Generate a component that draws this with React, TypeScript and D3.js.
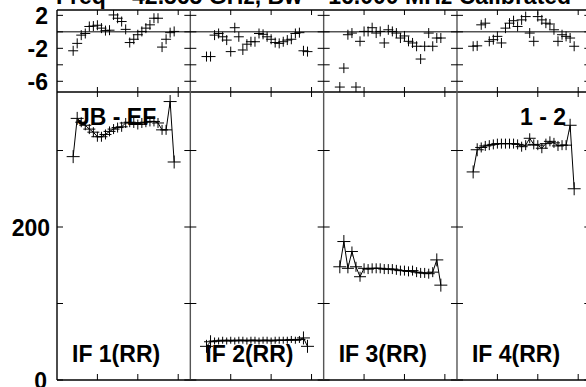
import React from "react";
import * as d3 from "d3";

// channel numbers and panel names
const channels = [4, 5, 6, 7, 8, 9, 10, 11, 12, 13, 14, 15, 16, 17, 18, 19, 20, 21, 22, 23, 24, 25, 26, 27, 28, 29];
const ifLabels = ["IF 1(RR)", "IF 2(RR)", "IF 3(RR)", "IF 4(RR)"];

// amplitude per IF
const ampIF1 = [292, 342, 337, 333, 328, 324, 318, 318, 321, 325, 328, 330, 331, 336, 337, 336, 334, 336, 337, 338, 338, 336, 327, 327, 364, 285];
const ampIF2 = [44, 50, 51, 51, 52, 51, 52, 51, 52, 52, 51, 52, 52, 51, 52, 52, 51, 52, 52, 52, 52, 53, 52, 53, 55, 44];
const ampIF3 = [148, 181, 146, 168, 148, 135, 146, 145, 146, 146, 146, 145, 145, 145, 144, 143, 143, 142, 143, 141, 140, 140, 139, 141, 157, 124];
const ampIF4 = [272, 301, 304, 306, 307, 308, 309, 309, 309, 309, 309, 308, 305, 307, 316, 308, 307, 303, 309, 312, 310, 306, 307, 307, 333, 250];

// phase per IF (degrees)
const phaseIF1 = [-2.3, -1.4, -0.4, -0.2, 0.65, 0.7, 0.8, 0.45, 0.15, 0.2, 2.05, 1.65, 1.25, 0.3, -1.3, -0.9, -0.35, 0.05, 0.45, 0.85, 1.65, 1.65, -1.85, -0.9, -0.1, 0.05];
const phaseIF2 = [-3.0, -3.0, -0.4, -0.2, -0.6, -1.0, -2.4, 0.5, -0.6, -2.2, -1.5, -1.2, -1.2, -0.2, -0.3, -0.6, -0.9, -1.3, -1.4, -1.2, -1.0, -0.9, -0.2, -0.1, -2.3, -2.4];
const phaseIF3 = [-6.7, -4.4, -0.35, -0.15, -6.7, -1.15, 0.05, 0.05, 0.5, -0.15, 0.05, -1.35, 0.25, 0.05, -0.15, -0.75, -0.5, -1.15, -1.35, -1.75, -3.3, -1.75, -0.15, -1.75, -0.75, -0.75];
const phaseIF4 = [-1.75, -1.7, 0.85, 1.05, -1.15, -0.95, -0.55, -1.35, 0.45, 1.05, 1.35, 0.65, 1.45, 1.85, -0.15, -1.15, 1.85, 1.45, 1.05, 0.95, 0.25, -1.15, -0.35, -0.55, -0.75, -1.75];

const amps = [ampIF1, ampIF2, ampIF3, ampIF4];
const phases = [phaseIF1, phaseIF2, phaseIF3, phaseIF4];

const xTicks = [10, 20, 30];
const phaseTicks = [2, 0, -2, -4, -6];
const phaseTickLabels = ["2", "-2", "-6"];
const ampTicks = [0, 100, 200, 300];
const ampTickLabels = ["0", "200"];

const title = "Freq = 42.565 GHz, Bw = 16.000 MHz   Calibrated";

const W = 586;
const H = 387;
const left = 57;
const panelW = 133.33;
const font = "'Liberation Sans', Arial, sans-serif";

export default function App() {
  const yPh = d3.scaleLinear().domain([-7.3, 2.65]).range([92, 10]);
  const yAmp = d3.scaleLinear().domain([0, 376.5]).range([380, 92]);
  const xs = ifLabels.map((_, i) =>
    d3.scaleLinear().domain([0, 33]).range([left + i * panelW, left + (i + 1) * panelW])
  );
  const bounds = d3.range(5).map((i) => left + i * panelW);

  return (
    <div style={{ position: "fixed", left: 0, top: 0 }}>
      <svg width={W} height={H} style={{ display: "block", background: "#fff" }} fontFamily={font}>
        <text x={56} y={4} fontSize={23} fontWeight="bold">{title}</text>

        {/* panel frames */}
        <g stroke="#000" strokeWidth={1.4} fill="none">
          <line x1={left} x2={W + 10} y1={10} y2={10} />
          <line x1={left} x2={W + 10} y1={92} y2={92} />
          <line x1={left} x2={W + 10} y1={380} y2={380} />
          {bounds.map((b, i) => (
            <line key={i} x1={b} x2={b} y1={10} y2={380} stroke={i === 0 ? "#000" : "#555"} />
          ))}
          <line x1={left} x2={W + 10} y1={yPh(0)} y2={yPh(0)} strokeWidth={1} />
        </g>

        {/* ticks */}
        <g stroke="#000" strokeWidth={1}>
          {xs.map((x, i) =>
            xTicks.map((t) => (
              <g key={`${i}-${t}`}>
                <line x1={x(t)} x2={x(t)} y1={10} y2={15} />
                <line x1={x(t)} x2={x(t)} y1={92} y2={87} />
                <line x1={x(t)} x2={x(t)} y1={92} y2={97} />
                <line x1={x(t)} x2={x(t)} y1={380} y2={374} />
              </g>
            ))
          )}
          {bounds.map((b, i) => (
            <g key={i}>
              {phaseTicks.map((t) => (
                <line key={t} x1={i === 0 ? b : b - 6} x2={b + 6} y1={yPh(t)} y2={yPh(t)} />
              ))}
              {ampTicks.map((t) => (
                <line key={t} x1={i === 0 ? b : b - 6} x2={b + 6} y1={yAmp(t)} y2={yAmp(t)} />
              ))}
            </g>
          ))}
        </g>

        {/* tick labels */}
        <g fontSize={23} fontWeight="bold" textAnchor="end" dominantBaseline="central">
          {phaseTickLabels.map((t) => (
            <text key={t} x={48} y={yPh(+t) + 1}>{t}</text>
          ))}
          {ampTickLabels.map((t) => (
            <text key={t} x={t === "0" ? 47 : 50} y={yAmp(+t) + 1}>{t}</text>
          ))}
        </g>

        {/* data */}
        {xs.map((x, i) => {
          const amp = amps[i];
          const ph = phases[i];
          const line = d3.line<number>().x((_, k) => x(channels[k])).y((d) => yAmp(d));
          const vh = i === 1 ? 3.5 : 5;
          return (
            <g key={i} stroke="#000" strokeWidth={1} fill="none">
              <path d={line(amp) || ""} />
              {amp.map((v, k) => {
                const big = k < 2 || k >= amp.length - 2;
                const h = big ? 6.5 : 6;
                const vv = big ? 6.5 : vh;
                return (
                  <g key={k}>
                    <line x1={x(channels[k]) - h} x2={x(channels[k]) + h} y1={yAmp(v)} y2={yAmp(v)} />
                    <line x1={x(channels[k])} x2={x(channels[k])} y1={yAmp(v) - vv} y2={yAmp(v) + vv} />
                  </g>
                );
              })}
              {ph.map((v, k) => (
                <g key={`p${k}`}>
                  <line x1={x(channels[k]) - 5} x2={x(channels[k]) + 5} y1={yPh(v)} y2={yPh(v)} />
                  <line x1={x(channels[k])} x2={x(channels[k])} y1={yPh(v) - 5} y2={yPh(v) + 5} />
                </g>
              ))}
            </g>
          );
        })}

        {/* labels */}
        <g fontSize={23} fontWeight="bold">
          {xs.map((x, i) => (
            <text key={i} x={x(0) + 15} y={362}>{ifLabels[i]}</text>
          ))}
          <text x={77} y={125}>JB - EF</text>
          <text x={520} y={125}>1 - 2</text>
        </g>
      </svg>
    </div>
  );
}
